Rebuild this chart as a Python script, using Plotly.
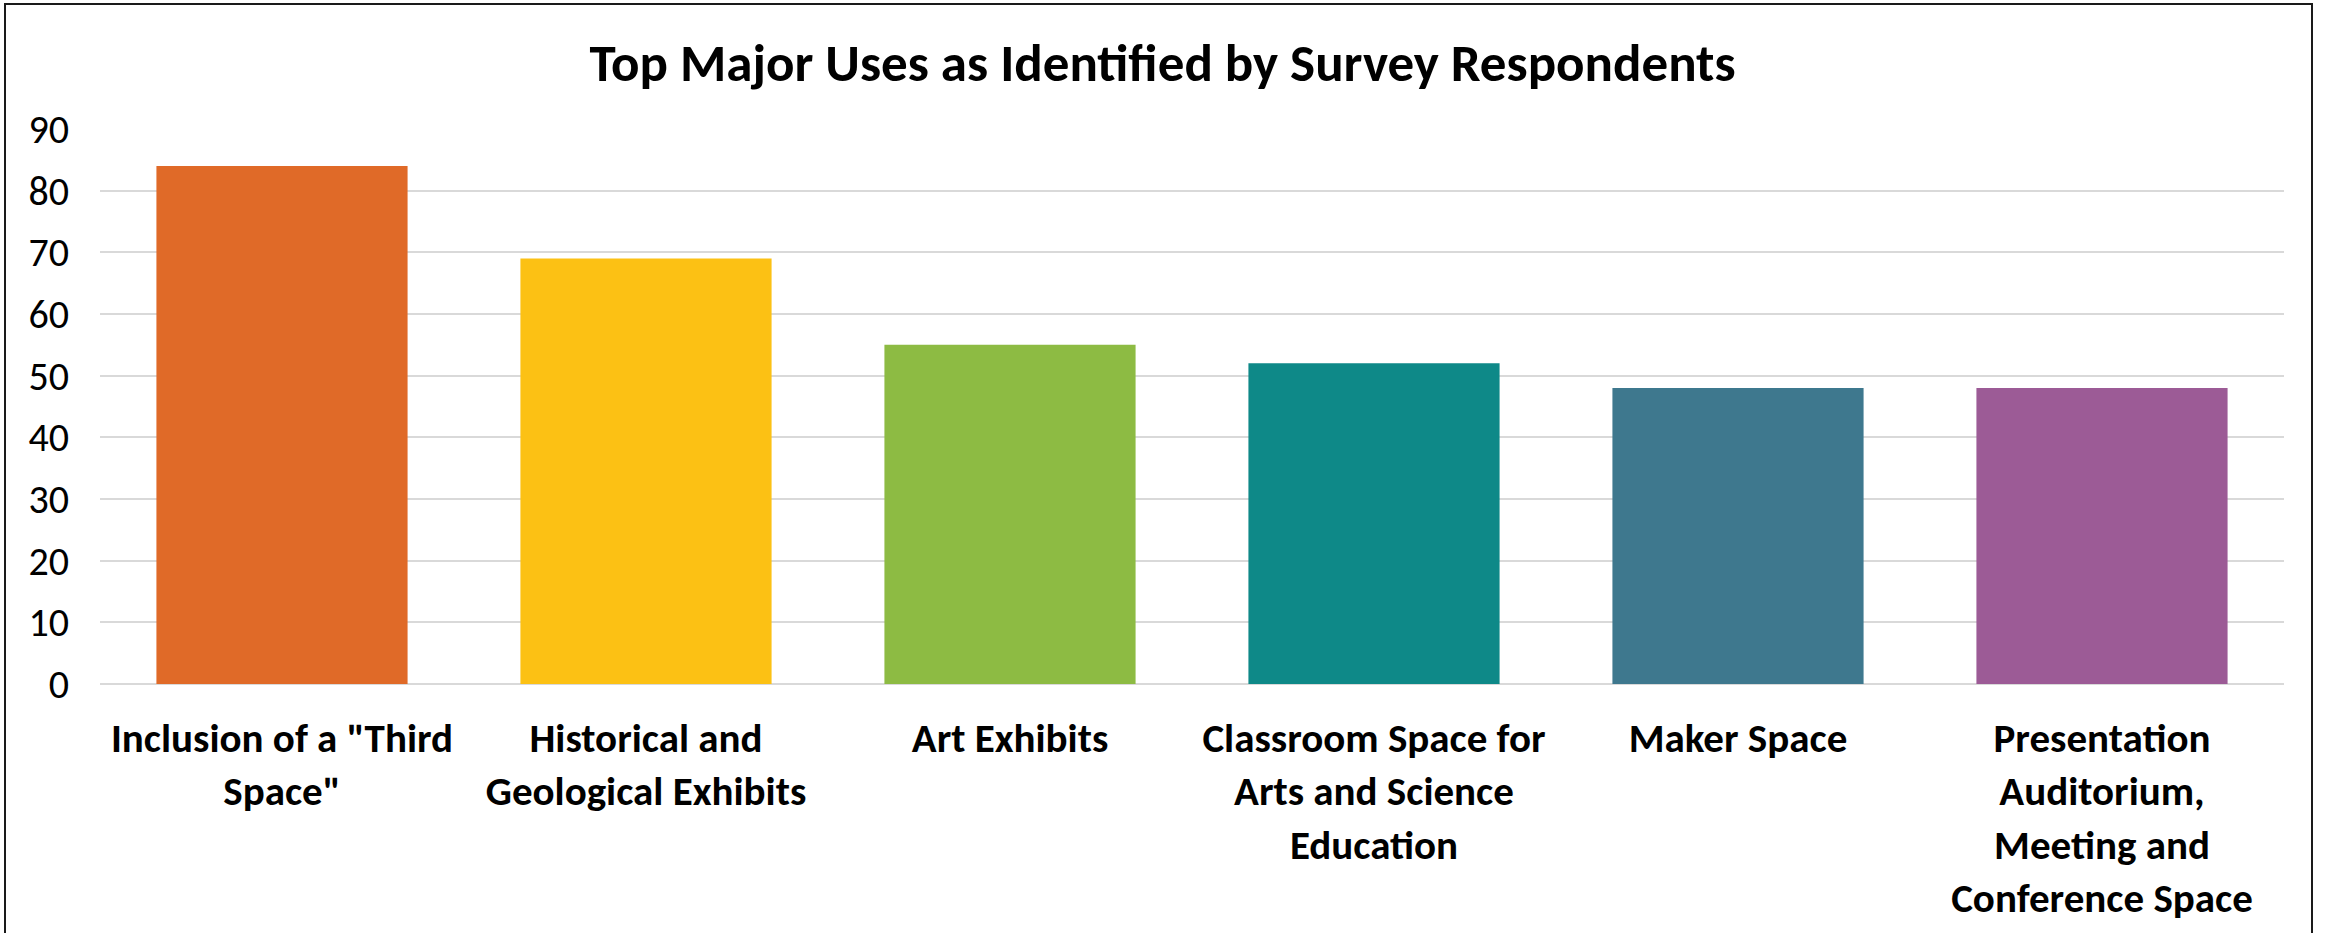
import plotly.graph_objects as go

categories = [
    'Inclusion of a "Third<br>Space"',
    'Historical and<br>Geological Exhibits',
    'Art Exhibits',
    'Classroom Space for<br>Arts and Science<br>Education',
    'Maker Space',
    'Presentation<br>Auditorium,<br>Meeting and<br>Conference Space',
]
values = [84, 69, 55, 52, 48, 48]
colors = ["#E06A28", "#FCC114", "#8DBB43", "#0E8988", "#3E788E", "#9C5B96"]
y_ticks = [0, 10, 20, 30, 40, 50, 60, 70, 80, 90]
title_text = "Top Major Uses as Identified by Survey Respondents"

W, H = 2325, 933
L, R, T, B = 100, 41, 129, 249
FONT = "Carlito, Calibri, Lato, sans-serif"

fig = go.Figure(go.Bar(
    x=list(range(len(categories))),
    y=values,
    marker=dict(color=colors, line=dict(width=0)),
    hoverinfo="skip",
))

pw = W - L - R
ph = H - T - B
y_bottom_px = H - B
fig.add_shape(type="rect", xref="paper", yref="paper",
              x0=(5 - L) / pw, x1=(2312 - L) / pw,
              y0=(y_bottom_px - (H + 20)) / ph, y1=(y_bottom_px - 4) / ph,
              line=dict(color="#1a1a1a", width=2), fillcolor="rgba(0,0,0,0)", layer="above")

fig.update_layout(
    width=W, height=H,
    margin=dict(l=L, r=R, t=T, b=B, pad=0, autoexpand=False),
    paper_bgcolor="white", plot_bgcolor="white",
    bargap=0.31,
    showlegend=False,
    title=dict(text="<b>" + title_text + "</b>", x=0.5, xref="container", xanchor="center",
               y=1 - 62 / H, yref="container", yanchor="middle",
               font=dict(family=FONT, size=53, color="black")),
    xaxis=dict(
        tickmode="array", tickvals=list(range(len(categories))),
        ticktext=["<b>" + c.replace("<br>", "</b><br><b>") + "</b>" for c in categories],
        range=[-0.5, len(categories) - 0.5],
        showgrid=False, zeroline=False, showline=False, ticks="",
        tickfont=dict(family=FONT, size=41, color="black"),
        ticklabelstandoff=26, tickangle=0, automargin=False,
    ),
    yaxis=dict(
        range=[0, 90], tickmode="array", tickvals=y_ticks,
        showgrid=True, gridcolor="#D9D9D9", gridwidth=2,
        zeroline=True, zerolinecolor="#D9D9D9", zerolinewidth=2,
        showline=False, ticks="",
        tickfont=dict(family=FONT, size=40, color="black"),
        ticklabelstandoff=30, automargin=False,
    ),
)

fig.write_html("out.html")
